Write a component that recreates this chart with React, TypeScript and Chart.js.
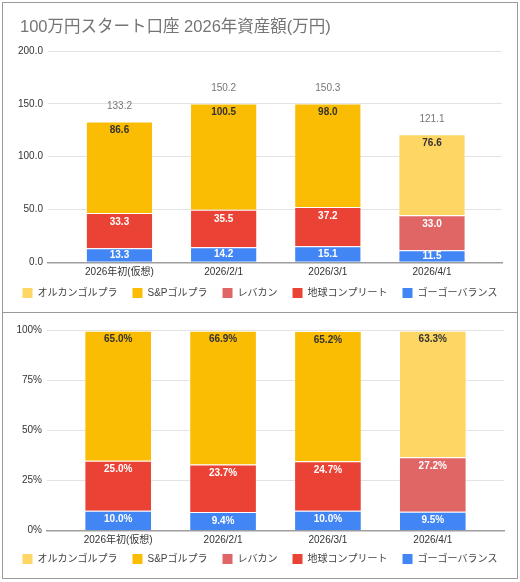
import React, { useEffect, useRef } from "react";
import { Chart, registerables } from "chart.js";

Chart.register(...registerables);

// ---- data ----
const titleText = "100万円スタート口座 2026年資産額(万円)";
const categories = ["2026年初(仮想)", "2026/2/1", "2026/3/1", "2026/4/1"];
// stacking order: bottom -> top
const seriesNames = ["ゴーゴーバランス", "地球コンプリート", "レバカン", "S&Pゴルプラ", "オルカンゴルプラ"];
const gogoBalance = [13.3, 14.2, 15.1, 11.5];
const chikyuComplete = [33.3, 35.5, 37.2, null];
const rebakan = [null, null, null, 33.0];
const spGorupura = [86.6, 100.5, 98.0, null];
const orukanGorupura = [null, null, null, 76.6];
const totals = [133.2, 150.2, 150.3, 121.1];

const gogoPct = [10.0, 9.4, 10.0, 9.5];
const chikyuPct = [25.0, 23.7, 24.7, null];
const rebakanPct = [null, null, null, 27.2];
const spPct = [65.0, 66.9, 65.2, null];
const orukanPct = [null, null, null, 63.3];

const amountTicks = [0, 50, 100, 150, 200];
const percentTicks = [0, 25, 50, 75, 100];

const seriesColors = ["#4285F4", "#EA4335", "#E06666", "#FBBC04", "#FDD663"];
const labelColors = ["#ffffff", "#ffffff", "#ffffff", "#333333", "#333333"];

const FAMILY = "'Liberation Sans', 'Noto Sans CJK JP', sans-serif";

type Num = number | null;

function makeDatasets(vals: Num[][]) {
  return seriesNames.map((name, k) => ({
    label: name,
    data: vals[k].map((v, i) => ({ x: i, y: v })),
    backgroundColor: seriesColors[k],
    borderColor: "rgba(255,255,255,0.35)",
    borderWidth: 1,
    barPercentage: 0.645,
    categoryPercentage: 1,
    xAxisID: "x",
    yAxisID: "y",
  }));
}

function labelPlugin(fmt: (v: number) => string, totalVals: number[] | null) {
  return {
    id: "segLabels",
    afterDatasetsDraw(chart: any) {
      const ctx = chart.ctx;
      ctx.save();
      ctx.textAlign = "center";
      ctx.textBaseline = "middle";
      chart.data.datasets.forEach((ds: any, di: number) => {
        const meta = chart.getDatasetMeta(di);
        if (meta.hidden) return;
        meta.data.forEach((bar: any, i: number) => {
          const v = ds.data[i].y;
          if (v == null) return;
          const h = Math.abs(bar.base - bar.y);
          ctx.font = `bold 10px ${FAMILY}`;
          ctx.fillStyle = labelColors[di];
          ctx.fillText(fmt(v), bar.x, bar.y + Math.min(9, h / 2));
        });
      });
      if (totalVals) {
        const xs = chart.scales.x;
        const ys = chart.scales.y;
        ctx.font = `10px ${FAMILY}`;
        ctx.fillStyle = "#757575";
        totalVals.forEach((t, i) => {
          ctx.fillText(t.toFixed(1), xs.getPixelForValue(i), ys.getPixelForValue(t) - 15);
        });
      }
      ctx.restore();
    },
  };
}

const titleShift = {
  id: "titleShift",
  afterLayout(chart: any) {
    if (chart.titleBlock && chart.options.plugins.title.display) {
      chart.titleBlock.left = 17;
    }
  },
};

function buildConfig(opts: {
  vals: Num[][];
  ticks: number[];
  max: number;
  tickFmt: (v: number) => string;
  labelFmt: (v: number) => string;
  totals: number[] | null;
  showTitle: boolean;
  xMin: number;
  xMax: number;
  yWidth: number;
  rightWidth: number;
  xHeight: number;
  xPad: number;
  padTop: number;
}) {
  return {
    type: "bar" as const,
    data: { datasets: makeDatasets(opts.vals) as any },
    options: {
      animation: false,
      responsive: true,
      maintainAspectRatio: false,
      layout: { padding: { top: opts.padTop, left: 0, right: 0, bottom: 4 } },
      plugins: {
        title: {
          display: opts.showTitle,
          text: titleText,
          align: "start",
          color: "#757575",
          font: { size: 16.5, family: FAMILY, weight: "normal" },
          padding: { top: 14.6, bottom: 13.6 },
        },
        legend: {
          position: "bottom",
          reverse: true,
          labels: {
            boxWidth: 10,
            boxHeight: 10,
            padding: 15,
            color: "#444444",
            font: { size: 10, family: FAMILY },
            generateLabels: (chart: any) =>
              (Chart.defaults.plugins.legend.labels.generateLabels as any)(chart).map((l: any) => ({
                ...l,
                lineWidth: 0,
                strokeStyle: "rgba(0,0,0,0)",
              })),
          },
        },
        tooltip: { enabled: false },
      },
      scales: {
        x: {
          type: "linear",
          offset: false,
          min: opts.xMin,
          max: opts.xMax,
          stacked: true,
          grid: { display: false, drawTicks: false, offset: false },
          border: { display: true, color: "#9e9e9e", width: 1.5 },
          afterBuildTicks: (s: any) => {
            s.ticks = categories.map((_, i) => ({ value: i }));
          },
          afterFit: (s: any) => {
            s.height = opts.xHeight;
            // let the category labels run into the legend's top padding
            s._computeLabelArea = () => undefined;
          },
          ticks: {
            autoSkip: false,
            maxRotation: 0,
            minRotation: 0,
            padding: opts.xPad,
            color: "#333333",
            font: { size: 10, family: FAMILY },
            callback: (v: any) => categories[v] ?? "",
          },
        },
        y: {
          type: "linear",
          position: "left",
          stacked: true,
          min: 0,
          max: opts.max,
          afterBuildTicks: (s: any) => {
            s.ticks = opts.ticks.map((v) => ({ value: v }));
          },
          afterFit: (s: any) => {
            s.width = opts.yWidth;
          },
          grid: {
            drawTicks: false,
            color: (c: any) => (c.tick && c.tick.value === 0 ? "rgba(0,0,0,0)" : "#e3e3e3"),
          },
          border: { display: false },
          ticks: {
            padding: 5,
            color: "#333333",
            font: { size: 10, family: FAMILY },
            callback: (v: any) => opts.tickFmt(Number(v)),
          },
        },
        yr: {
          type: "linear",
          position: "right",
          display: true,
          grid: { display: false, drawTicks: false },
          border: { display: false },
          ticks: { display: false },
          afterFit: (s: any) => {
            s.width = opts.rightWidth;
          },
        },
      },
    },
    plugins: [labelPlugin(opts.labelFmt, opts.totals), titleShift],
  };
}

function ChartBox({ config, height }: { config: any; height: number }) {
  const ref = useRef<HTMLCanvasElement | null>(null);
  useEffect(() => {
    if (!ref.current) return;
    const chart = new Chart(ref.current, config);
    return () => chart.destroy();
  }, [config]);
  return (
    <div style={{ position: "relative", width: 514, height }}>
      <canvas ref={ref} />
    </div>
  );
}

const topConfig = buildConfig({
  vals: [gogoBalance, chikyuComplete, rebakan, spGorupura, orukanGorupura],
  ticks: amountTicks,
  max: 200,
  tickFmt: (v) => v.toFixed(1),
  labelFmt: (v) => v.toFixed(1),
  totals,
  showTitle: true,
  xMin: -0.686,
  xMax: 3.672,
  yWidth: 45,
  rightWidth: 15,
  xHeight: 10.7,
  xPad: 4.2,
  padTop: 0,
});

const bottomConfig = buildConfig({
  vals: [gogoPct, chikyuPct, rebakanPct, spPct, orukanPct],
  ticks: percentTicks,
  max: 100,
  tickFmt: (v) => `${v}%`,
  labelFmt: (v) => `${v.toFixed(1)}%`,
  totals: null,
  showTitle: false,
  xMin: -0.679,
  xMax: 3.682,
  yWidth: 44,
  rightWidth: 12.7,
  xHeight: 8.3,
  xPad: 3.8,
  padTop: 17.7,
});

export default function App() {
  return (
    <div
      style={{
        position: "absolute",
        left: 2,
        top: 2,
        width: 514,
        border: "1px solid #9a9a9a",
        background: "#ffffff",
      }}
    >
      <ChartBox config={topConfig} height={309} />
      <div style={{ height: 1, background: "#9a9a9a" }} />
      <ChartBox config={bottomConfig} height={265} />
    </div>
  );
}
